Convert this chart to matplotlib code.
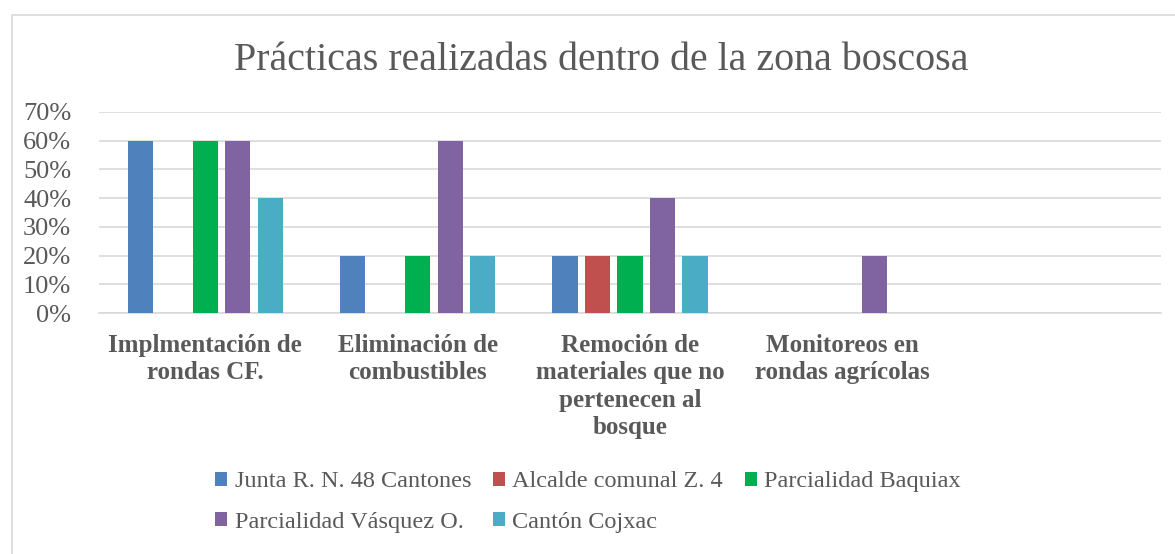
import numpy as np
from matplotlib import pyplot as plt
from matplotlib.patches import Rectangle
from matplotlib.ticker import PercentFormatter

categories = ['Implmentación de\nrondas CF.', 'Eliminación de\ncombustibles',
              'Remoción de\nmateriales que no\npertenecen al\nbosque',
              'Monitoreos en\nrondas agrícolas', '']
series_names = ['Junta R. N. 48 Cantones', 'Alcalde comunal Z. 4', 'Parcialidad Baquiax',
                'Parcialidad Vásquez O.', 'Cantón Cojxac']
junta = [0.6, 0.2, 0.2, 0.0, 0.0]
alcalde = [0.0, 0.0, 0.2, 0.0, 0.0]
baquiax = [0.6, 0.2, 0.2, 0.0, 0.0]
vasquez = [0.6, 0.6, 0.4, 0.2, 0.0]
cojxac = [0.4, 0.2, 0.2, 0.0, 0.0]
yticks = [0, 0.1, 0.2, 0.3, 0.4, 0.5, 0.6, 0.7]

colors = ['#4F81BD', '#C0504D', '#00B050', '#8064A2', '#4BACC6']
TXT = '#595959'
plt.rcParams['font.family'] = ['Liberation Serif', 'DejaVu Serif']

fig = plt.figure(figsize=(11.75, 5.54), dpi=100)
# chart border
fig.patches.append(Rectangle((12/1175, -0.1), 1.2, (554-15)/554 + 0.1, transform=fig.transFigure,
                             fill=False, edgecolor='#d9d9d9', linewidth=1.2))

ax = fig.add_axes([99/1175, 1-313/554, (1161-99)/1175, (313-112)/554])
x = np.arange(len(categories))
step = 0.153
w = 0.118
handles = []
for i, (vals, name) in enumerate(zip([junta, alcalde, baquiax, vasquez, cojxac], series_names)):
    b = ax.bar(x + (i-2)*step, vals, w, color=colors[i], label=name, zorder=3)
    handles.append(b)

ax.set_xlim(-0.5, len(categories)-0.5)
ax.set_ylim(0, 0.7)
ax.set_yticks(yticks)
ax.yaxis.set_major_formatter(PercentFormatter(1.0, decimals=0))
ax.grid(axis='y', color='#d9d9d9', linewidth=1.2, zorder=0)
for s in ['top', 'right', 'left']:
    ax.spines[s].set_visible(False)
ax.spines['bottom'].set_color('#d9d9d9')
ax.spines['bottom'].set_linewidth(1.2)
ax.set_xticks(x)
ax.set_xticklabels(categories, fontweight='bold', fontsize=18, color=TXT, va='top',
                   linespacing=1.25)
ax.tick_params(axis='x', length=0, pad=15)
ax.tick_params(axis='y', length=0, pad=20, labelsize=19, labelcolor=TXT)

fig.text(601/1175, 1-60/554, 'Prácticas realizadas dentro de la zona boscosa', ha='center',
         va='center', fontsize=28.8, color=TXT)

# row-wise order for a 3-column legend
order = [0, 3, 1, 4, 2]
fig.legend([handles[k] for k in order], [series_names[k] for k in order],
           loc='center', bbox_to_anchor=(588/1175, 1-502/554), ncol=3, frameon=False,
           fontsize=17.5, handlelength=0.5, handleheight=0.5, handletextpad=0.3,
           columnspacing=0.9, labelcolor=TXT, labelspacing=0.8)

fig.savefig('out.png', dpi=100)
